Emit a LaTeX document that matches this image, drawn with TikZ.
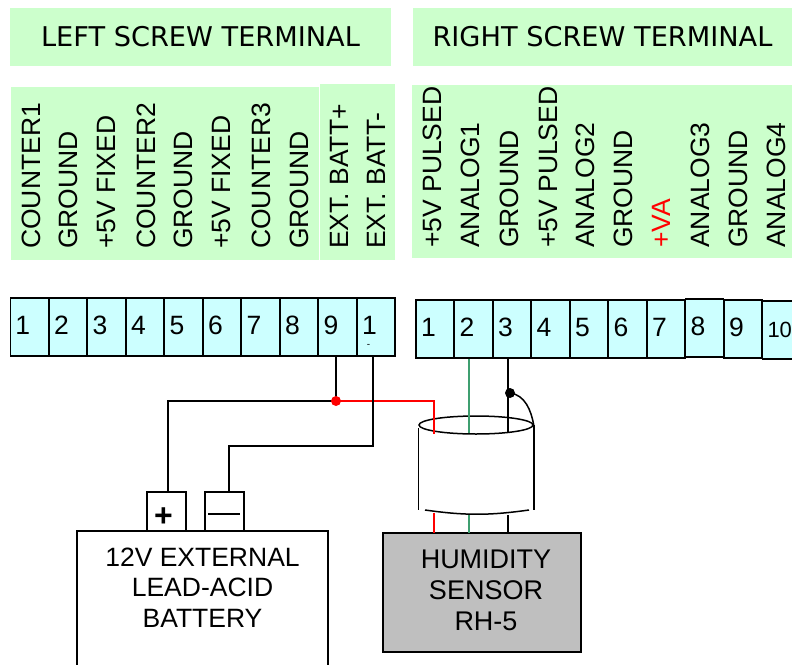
\documentclass[tikz,border=0pt]{standalone}
\usepackage{fontspec}
\setmainfont{Liberation Sans}
\newfontfamily\headfont{DejaVu Sans}
\usetikzlibrary{shapes.geometric}
\definecolor{panelgreen}{HTML}{CCFFCC}
\definecolor{cellcyan}{HTML}{CCFFFF}
\definecolor{wiregreen}{HTML}{3F9F70}
\definecolor{sensorgray}{HTML}{BFBFBF}

\begin{document}
\begin{tikzpicture}[
        x=1pt, y=-1pt,
        every node/.style={align=center},
        panel/.style={fill=panelgreen, draw=none, inner sep=0pt},
        heading/.style={font=\headfont\fontsize{27.2}{30}\selectfont},
        pinlabel/.style={rotate=90, anchor=west, inner sep=0pt, font=\fontsize{26.5}{30}\selectfont},
        cell/.style={draw, line width=1.5pt, fill=cellcyan, minimum height=58pt, text width=28pt, text height=18.7pt, text depth=4pt, align=left, inner xsep=5.2pt, inner ysep=0pt, font=\fontsize{26.5}{30}\selectfont},
        lug/.style={draw, line width=1.5pt, fill=white, minimum width=39pt, minimum height=39pt, inner sep=0pt},
        wire/.style={line width=1.5pt}
    ]
        \useasboundingbox (0,0) rectangle (792,664);
        \clip (0,0) rectangle (792,664);

        % Green heading bands
        \node[panel, minimum width=381pt, minimum height=58pt, heading] (lefthead) at (200.5,37) {LEFT SCREW TERMINAL};
        \node[panel, minimum width=379pt, minimum height=58pt, heading] (righthead) at (602.5,37) {RIGHT SCREW TERMINAL};

        % Green panels behind the rotated labels
        \node[panel, minimum width=308pt, minimum height=173pt] (leftpanel) at (165,173.5) {};
        \node[panel, minimum width=75pt, minimum height=176pt] (battpanel) at (357.5,172) {};
        \node[panel, minimum width=380pt, minimum height=173pt] (rightpanel) at (602,171.5) {};

        % Rotated labels, left terminal
        \foreach \px/\ptxt [count=\i] in {31/COUNTER1, 68/GROUND, 107/+5V FIXED, 146/COUNTER2, 183/GROUND, 222/+5V FIXED, 261/COUNTER3, 299/GROUND, 339/EXT. BATT+, 376/EXT. BATT-}
            \node[pinlabel] (lname\i) at (\px,249) {\ptxt};

        % Rotated labels, right terminal
        \foreach \px/\ptxt [count=\i] in {432/+5V PULSED, 470/ANALOG1, 509/GROUND, 548/+5V PULSED, 585/ANALOG2, 623/GROUND, 700/ANALOG3, 738/GROUND, 776/ANALOG4}
            \node[pinlabel] (rname\i) at (\px,248) {\ptxt};
        \node[pinlabel, red] (rnameva) at (661,248) {+VA};

        % Left terminal block
        \foreach \px [count=\i] in {29.5,68,106.5,145,183.5,222,260.5,299,337.5,376}
            \node[cell] (l\i) at (\px,327) {\ifnum\i=10 1\else\i\fi};
        \node[inner sep=0pt, font=\fontsize{10}{10}\selectfont] (ldash) at (368.5,346) {-};

        % Right terminal block
        \foreach \px/\py [count=\i] in {435/329, 473.5/329, 512/329, 550.5/329, 589/329, 627.5/329, 666/329, 704.5/328, 743/329}
            \node[cell] (r\i) at (\px,\py) {\i};
        \node[cell, font=\fontsize{22}{26}\selectfont] (r10) at (781.5,330) {10};

        % Battery and sensor
        \node[lug] (bplus) at (166.5,511.5) {};
        \node[lug] (bminus) at (224.5,511.5) {};
        \node[inner sep=0pt, font=\bfseries\fontsize{32}{32}\selectfont] (plussign) at (163.5,517) {+};
        \draw[wire] (208,514) coordinate (minusa) -- (240,514) coordinate (minusb);
        \node[draw, line width=1.6pt, outer sep=0pt, fill=white, minimum width=251pt, minimum height=150pt, anchor=north west, inner sep=0pt] (battery) at (77,531) {};
        \node[anchor=north, inner sep=0pt, font=\fontsize{26.5}{30.5}\selectfont] (batterytext) at (202.5,547.5) {12V EXTERNAL\\LEAD-ACID\\BATTERY};
        \node[draw, line width=1.8pt, outer sep=0pt, fill=sensorgray, minimum width=198pt, minimum height=119pt, anchor=north west, inner sep=0pt] (sensor) at (383,533) {};
        \node[anchor=north, inner sep=0pt, font=\fontsize{27}{31}\selectfont] (sensortext) at (486,549.5) {HUMIDITY\\SENSOR\\RH-5};

        % Cable jacket
        \node[draw, ellipse, line width=1.5pt, minimum width=114pt, minimum height=18pt, inner sep=0pt] (jacket) at (476,425) {};
        \draw[wire] (jacket.west) ++(0,3) -- ++(0,82);
        \draw[wire] (jacket.east) -- ++(0,85);
        \draw[wire] (425,510) to[bend right=8] (529,510);

        % Wires from the left terminal to the battery
        \coordinate (split) at (336,401);
        \coordinate (plusdrop) at (168,492);
        \coordinate (minusdrop) at (229,492);
        \coordinate (redtop) at (434,401);
        \coordinate (redin) at (434,434);
        \coordinate (redout) at (434,513);
        \coordinate (minuselbow) at (373,446);
        \draw[wire] (l9.south -| split) -- (split) -- (split -| plusdrop) -- (plusdrop);
        \draw[wire, red] (split) -- (redtop) -- (redin);
        \draw[wire, red] (redout) -- (redout |- sensor.north);
        \draw[wire] (l10.south -| minuselbow) -- (minuselbow) -- (minuselbow -| minusdrop) -- (minusdrop);
        \fill[red] (split) circle (5);

        % Wires from the right terminal to the sensor
        \coordinate (greenin) at (469,433);
        \coordinate (greenout) at (469,515);
        \coordinate (blackin) at (508,433);
        \coordinate (blackout) at (508,515);
        \coordinate (drain) at (510,393);
        \draw[line width=1.3pt, wiregreen] (r2.south -| greenin) -- (greenin);
        \draw[line width=1.3pt, wiregreen] (greenout) -- (greenout |- sensor.north);
        \draw[wire] (r3.south -| blackin) -- (blackin);
        \draw[wire] (blackout) -- (blackout |- sensor.north);
        \fill (drain) circle (5);
        \draw[wire] (drain) .. controls (525,395) and (531,410) .. (jacket.east);
    \end{tikzpicture}
\end{document}
